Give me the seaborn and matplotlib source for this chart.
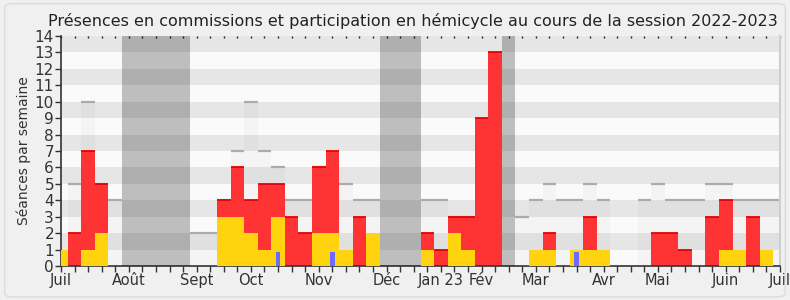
import numpy as np
import pandas as pd
import matplotlib
matplotlib.use("Agg")
import matplotlib.pyplot as plt
import seaborn as sns
from matplotlib.patches import FancyBboxPatch

# ---- data (weekly values, week index 0..53) ----
weeks = list(range(54))
commission = [1, 0, 1, 2, 0, 0, 0, 0, 0, 0,
              0, 0, 3, 3, 2, 1, 3, 0, 0, 2,
              2, 1, 0, 2, 0, 0, 0, 1, 0, 2,
              1, 0, 0, 0, 0, 1, 1, 0, 1, 1,
              1, 0, 0, 0, 0, 0, 0, 0, 0, 1,
              1, 0, 1, 0]
hemicycle = [0, 2, 7, 5, 0, 0, 0, 0, 0, 0,
             0, 0, 4, 6, 4, 5, 5, 3, 2, 6,
             7, 0, 3, 0, 0, 0, 0, 2, 1, 3,
             3, 9, 13, 0, 0, 0, 2, 0, 0, 3,
             0, 0, 0, 0, 2, 2, 1, 0, 3, 4,
             0, 3, 0, 0]
mediane = [0, 5, 10, 5, 4, 0, 0, 0, 0, 0,
           2, 2, 4, 7, 10, 7, 6, 4, 4, 6,
           6, 5, 4, 4, 0, 0, 0, 4, 4, 3,
           3, 4, 4, 0, 3, 4, 5, 4, 4, 5,
           4, 0, 0, 4, 5, 4, 4, 4, 5, 5,
           4, 4, 4, 4]
questions = [0] * 54
for w in (16, 20, 38):
    questions[w] = 0.85
vacances = [5, 6, 7, 8, 9, 24, 25, 26, 33]
month_weeks = [0, 5, 10, 14, 19, 24, 28, 31, 35, 40, 44, 49, 53]
month_labels = ['Juil', 'Août', 'Sept', 'Oct', 'Nov', 'Déc', 'Jan 23', 'Fév',
                'Mar', 'Avr', 'Mai', 'Juin', 'Juil']
title = "Présences en commissions et participation en hémicycle au cours de la session 2022-2023"
ylabel = "Séances par semaine"

df = pd.DataFrame({'week': weeks, 'commission': commission, 'hemicycle': hemicycle,
                   'mediane': mediane, 'questions': questions})
dvac = pd.DataFrame({'week': vacances, 'h': [14] * len(vacances)})

sns.set_theme(style="white")
plt.rcParams['font.family'] = ['DejaVu Sans']

fig = plt.figure(figsize=(7.9, 3.0), dpi=100)
fig.patch.set_facecolor('#f0f0f0')
fig.patches.append(FancyBboxPatch((0.006, 0.01), 0.988, 0.978, boxstyle="round,pad=0,rounding_size=0.012",
                                  transform=fig.transFigure, facecolor='none', edgecolor='#dcdcdc', lw=1))
ax = fig.add_axes([61 / 790, 1 - 266 / 300, (780 - 61) / 790, (266 - 36) / 300])
ax.set_facecolor('#fafafa')

# background bands
for k in range(1, 14, 2):
    ax.axhspan(k, k + 1, color='#e6e6e6', lw=0, zorder=0)

order = weeks
# median fill + line
sns.barplot(data=df, x='week', y='mediane', order=order, width=1.0, color='black', alpha=0.025,
            saturation=1, ax=ax, zorder=1, linewidth=0)
dm = df[df.mediane > 0]
ax.hlines(dm.mediane, dm.week - 0.5, dm.week + 0.5, color='#ababab', lw=1.6, zorder=1.5)

# hemicycle (red) and commission (yellow)
sns.barplot(data=df, x='week', y='hemicycle', order=order, width=1.0, color='#fe3434',
            saturation=1, ax=ax, zorder=2, linewidth=0)
dh = df[df.hemicycle > 0]
ax.hlines(dh.hemicycle, dh.week - 0.5, dh.week + 0.5, color='#e80000', lw=1.3, zorder=2.5)
sns.barplot(data=df, x='week', y='commission', order=order, width=1.0, color='#ffd30d',
            saturation=1, ax=ax, zorder=3, linewidth=0)
sns.barplot(data=df, x='week', y='questions', order=order, width=0.33, color='#6b6bff',
            saturation=1, ax=ax, zorder=4, linewidth=0)

# vacation spans
sns.barplot(data=dvac, x='week', y='h', order=order, width=1.0, color='black', alpha=0.24,
            saturation=1, ax=ax, zorder=5, linewidth=0)

ax.set_xlim(0, 53)
ax.set_ylim(0, 14)
ax.set_xticks(weeks)
lab = {w: l for w, l in zip(month_weeks, month_labels)}
ax.set_xticklabels([lab.get(w, '') for w in weeks])
ax.set_yticks(range(15))
ax.set_yticklabels([str(i) for i in range(15)])
ax.set_xlabel('')
ax.set_ylabel(ylabel, fontsize=10, color='#333333', labelpad=3)
ax.tick_params(axis='both', direction='out', length=4, width=1, color='#333333',
               labelcolor='#333333', pad=1, bottom=True, left=True)
ax.tick_params(axis='x', labelsize=10.5)
ax.tick_params(axis='y', labelsize=11)
ax.spines['top'].set_visible(False)
ax.spines['right'].set_color('#cfcfcf')
ax.spines['right'].set_linewidth(1.5)
for s in ['left', 'bottom']:
    ax.spines[s].set_color('#333333')
    ax.spines[s].set_linewidth(1.2)

sec = ax.secondary_xaxis('top')
sec.set_xticks(weeks)
sec.tick_params(direction='in', length=1.5, width=1, color='#222222', labeltop=False)
sec.spines['top'].set_visible(False)

ax.set_title(title, fontsize=11.5, color='#222222', pad=7, x=0.49)

fig.savefig('out.png', dpi=100, facecolor=fig.get_facecolor())
